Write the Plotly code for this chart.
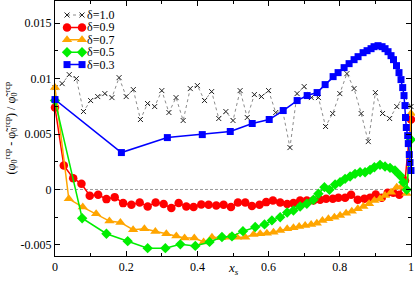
import plotly.graph_objects as go

# ---------------- data ----------------
x_d10 = [0.00, 0.02, 0.04, 0.06, 0.08, 0.10, 0.12, 0.14, 0.16, 0.18,
         0.20, 0.22, 0.24, 0.26, 0.28, 0.30, 0.32, 0.34, 0.36, 0.38,
         0.40, 0.42, 0.44, 0.46, 0.48, 0.50, 0.52, 0.54, 0.56, 0.58,
         0.60, 0.62, 0.64, 0.66, 0.68, 0.70, 0.72, 0.74, 0.76, 0.78,
         0.80, 0.82, 0.84, 0.86, 0.88, 0.90, 0.92, 0.94, 0.96, 0.98, 1.00]
y_d10 = [0.00919, 0.00955, 0.01036, 0.01000, 0.00703, 0.00802, 0.00838, 0.00865, 0.00829, 0.01009,
         0.00838, 0.00901, 0.00631, 0.00775, 0.00748, 0.00892, 0.00694, 0.00829, 0.00622, 0.00910,
         0.00937, 0.00802, 0.00883, 0.00640, 0.00703, 0.00622, 0.00892, 0.00649, 0.00856, 0.00838,
         0.00892, 0.00694, 0.00703, 0.00378, 0.00865, 0.00928, 0.00829, 0.00829, 0.00568, 0.00685,
         0.00865, 0.01045, 0.00910, 0.00685, 0.00432, 0.00874, 0.00685, 0.00640, 0.00748, 0.00847, 0.00748]

x_d09 = [0.0, 0.0247, 0.0511, 0.0743, 0.0976, 0.1212, 0.1445, 0.1677, 0.1913, 0.2146,
         0.2379, 0.2603, 0.2827, 0.3052, 0.3268, 0.3473, 0.3689, 0.3893, 0.4109, 0.4314,
         0.4530, 0.4735, 0.4943, 0.5139, 0.5344, 0.5532, 0.5745, 0.5933, 0.6121, 0.6325,
         0.6522, 0.6698, 0.6886, 0.7074, 0.7259, 0.7447, 0.7616, 0.7804, 0.7961, 0.8149,
         0.8317, 0.8505, 0.8690, 0.8850, 0.9010, 0.9178, 0.9346, 0.9503, 0.9672, 0.9832, 1.0]
y_d09 = [0.00739, 0.00216, 0.00102, 0.00051, -0.00057, -0.00048, -0.00087, -0.00069, -0.00123, -0.00138,
         -0.00117, -0.00153, -0.00117, -0.00132, -0.00168, -0.00122, -0.00153, -0.00159, -0.00135, -0.00138,
         -0.00144, -0.00138, -0.00159, -0.00117, -0.00117, -0.00150, -0.00138, -0.00114, -0.00099, -0.00117,
         -0.00131, -0.00123, -0.00099, -0.00099, -0.00099, -0.00093, -0.00084, -0.00084, -0.00075, -0.00075,
         -0.00048, -0.00093, -0.00084, -0.00075, -0.00045, -0.00075, -0.00030, -0.00030, -0.00048, 0.00081, 0.00631]

x_d07 = [0.0, 0.0387, 0.0780, 0.1156, 0.1529, 0.1837, 0.2194, 0.2511, 0.2819, 0.3128,
         0.3408, 0.3641, 0.3913, 0.4174, 0.4409, 0.4670, 0.4903, 0.5111, 0.5344, 0.5576,
         0.5764, 0.5952, 0.6137, 0.6325, 0.6522, 0.6698, 0.6858, 0.7027, 0.7195, 0.7355,
         0.7512, 0.7680, 0.7849, 0.8008, 0.8177, 0.8337, 0.8505, 0.8662, 0.8822, 0.8971,
         0.9130, 0.9271, 0.9439, 0.9599, 0.9739, 0.9874, 1.0]
y_d07 = [0.00919, -0.00084, -0.00159, -0.00219, -0.00285, -0.00297, -0.00363, -0.00354, -0.00378, -0.00399,
         -0.00420, -0.00438, -0.00438, -0.00474, -0.00430, -0.00435, -0.00430, -0.00430, -0.00430, -0.00405,
         -0.00399, -0.00394, -0.00385, -0.00369, -0.00354, -0.00345, -0.00333, -0.00324, -0.00315, -0.00304,
         -0.00279, -0.00264, -0.00250, -0.00234, -0.00214, -0.00196, -0.00174, -0.00153, -0.00129, -0.00099,
         -0.00084, -0.00054, -0.00024, 0.00021, 0.00027, -0.00036, 0.00685]

x_d05 = [0.0, 0.0763, 0.1445, 0.2042, 0.2603, 0.3100, 0.3520, 0.3941, 0.4342, 0.4690,
         0.4971, 0.5279, 0.5624, 0.5885, 0.6093, 0.6325, 0.6522, 0.6698, 0.6886, 0.7074,
         0.7259, 0.7400, 0.7568, 0.7708, 0.7868, 0.8008, 0.8149, 0.8289, 0.8429, 0.8569,
         0.8710, 0.8850, 0.8971, 0.9130, 0.9271, 0.9411, 0.9551, 0.9691, 0.9784, 0.9880, 1.0]
y_d05 = [0.00802, -0.00259, -0.00399, -0.00466, -0.00529, -0.00529, -0.00495, -0.00509, -0.00473, -0.00428,
         -0.00423, -0.00376, -0.00339, -0.00315, -0.00279, -0.00250, -0.00207, -0.00189, -0.00153, -0.00129,
         -0.00093, -0.00039, 0.00021, -0.00003, 0.00045, 0.00066, 0.00096, 0.00117, 0.00141, 0.00156,
         0.00156, 0.00177, 0.00201, 0.00222, 0.00207, 0.00195, 0.00171, 0.00126, 0.00066, -0.00003, 0.00450]

x_d03 = [0.0, 0.1865, 0.3156, 0.4137, 0.4923, 0.5540, 0.6017, 0.6410, 0.6802, 0.7083,
         0.7363, 0.7588, 0.7812, 0.7952, 0.8121, 0.8261, 0.8401, 0.8513, 0.8654, 0.8766,
         0.8878, 0.8962, 0.9074, 0.9187, 0.9271, 0.9355, 0.9439, 0.9509, 0.9593, 0.9663,
         0.9719, 0.9767, 0.9804, 0.9832, 0.9846, 0.9868, 0.9907, 0.9924, 0.9952, 0.9972, 1.0]
y_d03 = [0.00811, 0.00333, 0.00468, 0.00495, 0.00523, 0.00595, 0.00631, 0.00712, 0.00802, 0.00847,
         0.00874, 0.00946, 0.01018, 0.01054, 0.01099, 0.01135, 0.01171, 0.01198, 0.01234, 0.01252,
         0.01270, 0.01288, 0.01297, 0.01288, 0.01270, 0.01243, 0.01207, 0.01171, 0.01117, 0.01054,
         0.00991, 0.00919, 0.00847, 0.00757, 0.00649, 0.00559, 0.00486, 0.00414, 0.00315, 0.00243, 0.00171]

series_labels = ["δ=1.0", "δ=0.9", "δ=0.7", "δ=0.5", "δ=0.3"]
x_tick_vals = [0, 0.2, 0.4, 0.6, 0.8, 1.0]
x_tick_text = ["0", "0.2", "0.4", "0.6", "0.8", "1"]
y_tick_vals = [-0.005, 0, 0.005, 0.01, 0.015]
y_tick_text = ["-0.005", "0", "0.005", "0.01", "0.015"]
zero_x = [0, 1]
zero_y = [0, 0]

# ---------------- styles ----------------
FONT = "Liberation Serif"
styles = [
    dict(line=dict(color="#8c8c8c", width=1, dash="dot"),
         marker=dict(symbol="x-thin", size=5, line=dict(color="#222222", width=1), color="#222222")),
    dict(line=dict(color="#ff0000", width=1.5),
         marker=dict(symbol="circle", size=8.5, color="#ff0000", line=dict(width=0))),
    dict(line=dict(color="#ffa500", width=1.5),
         marker=dict(symbol="triangle-up", size=9, color="#ffa500", line=dict(width=0))),
    dict(line=dict(color="#00ee00", width=1.5),
         marker=dict(symbol="diamond", size=8, color="#00ee00", line=dict(width=0))),
    dict(line=dict(color="#0000ff", width=1.5),
         marker=dict(symbol="square", size=7, color="#0000ff", line=dict(width=0))),
]
data_sets = [(x_d10, y_d10), (x_d09, y_d09), (x_d07, y_d07), (x_d05, y_d05), (x_d03, y_d03)]

fig = go.Figure()

fig.add_trace(go.Scatter(x=zero_x, y=zero_y, mode="lines",
                         line=dict(color="#9a9a9a", width=1, dash="3px,2px"),
                         hoverinfo="skip", showlegend=False))

for (xs, ys), st, lab in zip(data_sets, styles, series_labels):
    fig.add_trace(go.Scatter(x=xs, y=ys, mode="lines+markers", name=lab,
                             line=st["line"], marker=st["marker"],
                             cliponaxis=False, showlegend=False))

# compact legend drawn on a hidden helper subplot
legend_annotations = []
for i, (st, lab) in enumerate(zip(styles, series_labels)):
    fig.add_trace(go.Scatter(x=[0, 1], y=[i, i], xaxis="x2", yaxis="y2",
                             mode="lines+markers",
                             line=st["line"], marker=st["marker"],
                             cliponaxis=False, showlegend=False, hoverinfo="skip"))
    legend_annotations.append(dict(text=lab, xref="x2", yref="y2", x=1, y=i,
                                   xanchor="left", yanchor="middle", xshift=4,
                                   showarrow=False, borderpad=0,
                                   font=dict(family=FONT, size=12, color="black")))

axis_common = dict(showline=True, linecolor="black", linewidth=1, mirror="ticks",
                   ticks="inside", ticklen=5, tickwidth=1, tickcolor="black",
                   showgrid=False, zeroline=False,
                   tickfont=dict(family=FONT, size=12, color="black"))

fig.update_layout(
    width=415, height=282,
    margin=dict(l=55, r=4, t=1, b=26),
    paper_bgcolor="white", plot_bgcolor="white",
    font=dict(family=FONT, size=12, color="black"),
    showlegend=False,
    xaxis=dict(range=[0, 1], tickmode="array", tickvals=x_tick_vals, ticktext=x_tick_text,
               minor=dict(ticks="inside", ticklen=3, tickcolor="black", dtick=0.1, tick0=0),
               domain=[0, 1], **axis_common),
    yaxis=dict(range=[-0.006, 0.017], tickmode="array", tickvals=y_tick_vals, ticktext=y_tick_text,
               minor=dict(ticks="inside", ticklen=3, tickcolor="black", dtick=0.0025, tick0=0),
               domain=[0, 1], **axis_common),
    xaxis2=dict(domain=[0.02, 0.25], range=[-0.327, 5.133], visible=False, anchor="y2", fixedrange=True),
    yaxis2=dict(domain=[0.7263, 0.9694], range=[4.5, -0.5], visible=False, anchor="x2", fixedrange=True),
    annotations=[
        dict(text="<i>x<sub>s</sub></i>", xref="paper", yref="paper", x=0.5, y=0,
             xanchor="center", yanchor="top", yshift=-2, showarrow=False,
             font=dict(family=FONT, size=13, color="black")),
        dict(text="(φ<sub>0</sub><sup>rcp</sup> - φ\u0303<sub>0</sub><sup>rcp</sup>) / φ\u0303<sub>0</sub><sup>rcp</sup>",
             xref="paper", yref="paper", x=0, y=0.5, xshift=-44, textangle=-90,
             xanchor="center", yanchor="middle", showarrow=False,
             font=dict(family=FONT, size=12, color="black")),
    ] + legend_annotations,
)

fig.write_html("out.html", config={"displayModeBar": False},
               post_script="document.body.style.margin='0px';document.body.style.overflow='hidden';")
